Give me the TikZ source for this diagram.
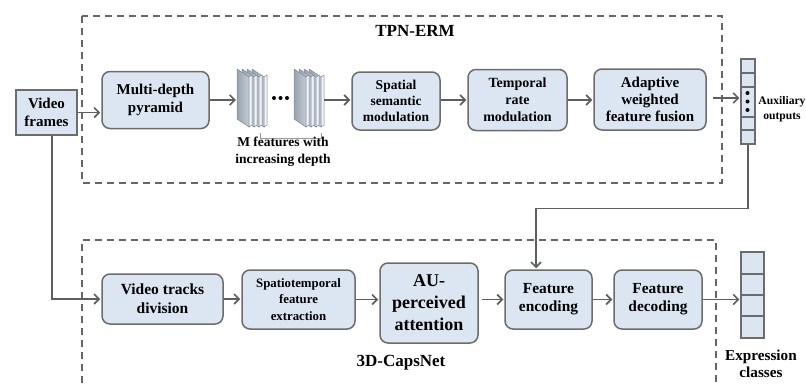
\documentclass[tikz,border=0pt]{standalone}
\usepackage{fontspec}
\setmainfont{Liberation Serif}
\usetikzlibrary{arrows.meta}
\definecolor{boxfill}{HTML}{DCE6F2}
\definecolor{boxgray}{HTML}{6C6C6C}
\definecolor{arrgray}{HTML}{5E5E5E}
\definecolor{dashgray}{HTML}{666666}
\definecolor{slabdark}{HTML}{98A3AF}
\definecolor{slablight}{HTML}{C4CCD5}
\definecolor{slabedge}{HTML}{7E8893}
\definecolor{slabfront}{HTML}{EEF2F7}
\definecolor{brgray}{HTML}{9A9A9A}
\newcommand\myfs[2]{\fontsize{#1}{#2}\selectfont\bfseries}
\tikzset{
  blk/.style={draw=boxgray, fill=boxfill, rounded corners=8pt, line width=1.5pt,
    align=center, inner sep=1pt},
  arr/.style={draw=arrgray, line width=1.6pt, shorten >=1pt,
    -{Straight Barb[length=5pt,width=10pt,line width=1.6pt]}},
  dashbox/.style={draw=dashgray, line width=1.5pt, dash pattern=on 7pt off 5pt},
  vec/.style={draw=boxgray, fill=boxfill, line width=1.3pt, inner sep=0pt},
  lbl/.style={align=center, inner sep=0pt, text=black},
  ghost/.style={inner sep=0pt, draw=none},
}
\begin{document}
\begin{tikzpicture}[x=1pt,y=-1pt]
\useasboundingbox (0,0) rectangle (806,383);

% dashed group boxes
\draw[dashbox] (82,16) rectangle (722,183);
\draw[dashbox] (82,383) -- (82,240) -- (716,240) -- (716,383);
\node[lbl, font=\myfs{17}{20}] (tpn) at (415,31) {TPN-ERM};
\node[lbl, font=\myfs{17}{20}] (caps) at (401,363) {3D-CapsNet};

% top row
\node[draw=boxgray, fill=boxfill, line width=2pt, align=center, inner sep=1pt,
  minimum width=61pt, minimum height=45pt, font=\myfs{15}{18}] (vf) at (46.5,112.5) {Video\\frames};
\node[blk, minimum width=107pt, minimum height=57pt, font=\myfs{15}{18}] (mdp) at (155.5,100) {Multi-depth\\pyramid};

% feature stacks
\foreach \X in {237,294}{
  \foreach \k in {3,2,1,0}{
    \pgfmathsetmacro\xo{\X+5*\k}
    \shade[left color=slabdark, right color=slablight] (\xo,69) -- (\xo+12,77) -- (\xo+12,127) -- (\xo,119) -- cycle;
    \draw[slabedge, line width=0.5pt] (\xo,69) -- (\xo+12,77) -- (\xo+12,127) -- (\xo,119) -- cycle;
    \filldraw[fill=slabfront, draw=slabedge, line width=0.5pt] (\xo+12,77) -- (\xo+15,75) -- (\xo+15,125) -- (\xo+12,127) -- cycle;
  }
}
\node[ghost, minimum width=30pt, minimum height=58pt] (stackA) at (252,98) {};
\node[ghost, minimum width=30pt, minimum height=58pt] (stackB) at (309,98) {};
\foreach \dx in {274,280.5,287}{ \fill[black] (\dx,98) circle (2pt); }
\draw[brgray, line width=0.9pt] (260,133) -- (260,138) -- (321,138) -- (321,133);
\node[lbl, font=\myfs{13.5}{17}] (mfeat) at (283,151.5) {M features with\\increasing depth};

\node[blk, minimum width=88pt, minimum height=58pt, font=\myfs{13.5}{16}] (ssm) at (396,101) {Spatial\\semantic\\modulation};
\node[blk, minimum width=99pt, minimum height=61pt, font=\myfs{14}{17}] (trm) at (517.5,100) {Temporal\\rate\\modulation};
\node[blk, minimum width=112pt, minimum height=61pt, font=\myfs{15}{17}] (awf) at (650,99.5) {Adaptive\\weighted\\feature fusion};

% auxiliary output vector
\node[vec, minimum width=14pt, minimum height=85pt] (aux) at (748,101.5) {};
\foreach \yy in {73,87,117,130}{ \draw[boxgray, line width=1.3pt] (aux.west |- 0,\yy) -- (aux.east |- 0,\yy); }
\foreach \yy in {93,101.5,110}{ \fill[black] (747.5,\yy) circle (2pt); }
\node[lbl, font=\myfs{11.6}{15}] (auxlbl) at (782,109.5) {Auxiliary\\outputs};

% bottom row
\node[blk, minimum width=121pt, minimum height=50pt, font=\myfs{15.5}{19}] (vtd) at (162.5,299) {Video tracks\\division};
\node[blk, minimum width=113pt, minimum height=59pt, font=\myfs{12.8}{16.5}] (sfe) at (298.5,299.5) {Spatiotemporal\\feature\\extraction};
\node[blk, minimum width=98pt, minimum height=80pt, font=\myfs{18}{22}] (aup) at (429,303) {AU-\\perceived\\attention};
\node[blk, minimum width=87pt, minimum height=59pt, font=\myfs{15.4}{18}] (fen) at (548.5,299.5) {Feature\\encoding};
\node[blk, minimum width=88pt, minimum height=59pt, font=\myfs{15.4}{18}] (fde) at (658,299.5) {Feature\\decoding};

% expression vector
\node[vec, minimum width=23pt, minimum height=86pt] (expr) at (752.5,295) {};
\foreach \yy in {274,295,316}{ \draw[boxgray, line width=1.3pt] (expr.west |- 0,\yy) -- (expr.east |- 0,\yy); }
\node[lbl, font=\myfs{15.2}{17}] (exprlbl) at (761,364) {Expression\\classes};

% connectors
\draw[arr] (vf.east) -- (vf.east -| mdp.west);
\draw[arr] (mdp.east) -- (mdp.east -| stackA.west);
\draw[arr] (stackB.east |- 0,100) -- (ssm.west |- 0,100);
\draw[arr] (ssm.east |- 0,100) -- (trm.west |- 0,100);
\draw[arr] (trm.east |- 0,100) -- (awf.west |- 0,100);
\draw[arr] ([xshift=6pt]awf.east |- 0,98) -- (aux.west |- 0,98);
\draw[arr] (aux.south) -- ++(0,64) -| ([xshift=-12.5pt]fen.north);
\draw[arr] ([xshift=5.5pt]vf.south) -- ([xshift=5.5pt]vf.south |- vtd.west) -- (vtd.west);
\draw[arr] (vtd.east) -- (vtd.east -| sfe.west);
\draw[arr] (sfe.east) -- (sfe.east -| aup.west);
\draw[arr] ([xshift=3pt]aup.east |- fen.west) -- (fen.west);
\draw[arr] (fen.east) -- (fen.east -| fde.west);
\draw[arr] (fde.east) -- (fde.east -| expr.west);
\end{tikzpicture}
\end{document}
